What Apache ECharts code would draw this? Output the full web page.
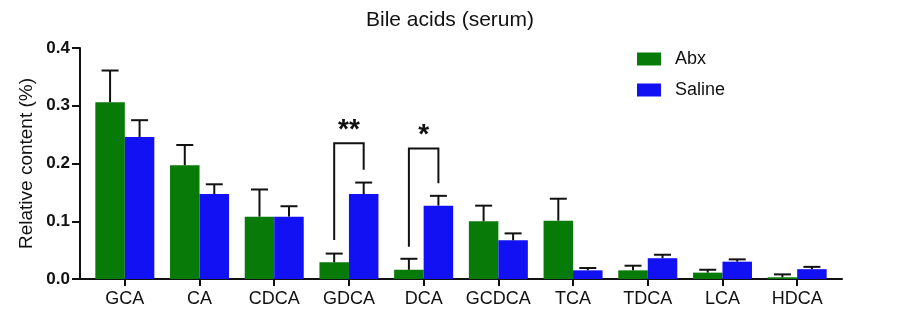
<!DOCTYPE html>
<html>
<head>
<meta charset="utf-8">
<script src="https://cdn.jsdelivr.net/npm/echarts@6/dist/echarts.min.js"></script>
<style>
  html, body { margin: 0; padding: 0; background: #fff; }
  #chart { width: 900px; height: 329px; }
</style>
</head>
<body>
<div id="chart"></div>
<script>
// Bile acid composition in serum, mean + SEM per group
const categories = ['GCA', 'CA', 'CDCA', 'GDCA', 'DCA', 'GCDCA', 'TCA', 'TDCA', 'LCA', 'HDCA'];
const abxMean    = [0.306, 0.197, 0.108, 0.029, 0.016, 0.100, 0.101, 0.015, 0.011, 0.003];
const abxSem     = [0.055, 0.035, 0.047, 0.015, 0.019, 0.027, 0.038, 0.008, 0.005, 0.005];
const salineMean = [0.246, 0.147, 0.108, 0.147, 0.127, 0.067, 0.015, 0.036, 0.030, 0.017];
const salineSem  = [0.029, 0.017, 0.018, 0.020, 0.017, 0.012, 0.004, 0.006, 0.004, 0.004];
const yTicks = [0, 0.1, 0.2, 0.3, 0.4];

// Significance brackets (category index, arm ends and top in axis units)
const sigCats     = [3, 4];
const sigLabels   = ['**', '*'];
const sigLeftEnd  = [0.0675, 0.056];
const sigRightEnd = [0.189, 0.166];
const sigTop      = [0.235, 0.226];

const GREEN = '#087a08';
const BLUE = '#1111f4';
const BAR_W = 29.5;
const FONT = '"Liberation Sans", Arial, Helvetica, sans-serif';

const errorData = [];
abxMean.forEach((v, i) => errorData.push([i, v, abxSem[i], -1]));
salineMean.forEach((v, i) => errorData.push([i, v, salineSem[i], 1]));

const sigData = sigCats.map((c, k) => [c, sigLeftEnd[k], sigRightEnd[k], sigTop[k], k]);

function renderError(params, api) {
  const x = api.value(0), m = api.value(1), e = api.value(2), side = api.value(3);
  const base = api.coord([x, m]);
  const top = api.coord([x, m + e]);
  const cx = base[0] + side * BAR_W / 2;
  const st = { stroke: '#111', lineWidth: 2 };
  return {
    type: 'group',
    children: [
      { type: 'line', shape: { x1: cx, y1: base[1], x2: cx, y2: top[1] }, style: st },
      { type: 'line', shape: { x1: cx - 8.5, y1: top[1], x2: cx + 8.5, y2: top[1] }, style: st }
    ]
  };
}

function renderSig(params, api) {
  const c = api.value(0);
  const yL = api.coord([c, api.value(1)])[1];
  const yR = api.coord([c, api.value(2)])[1];
  const pt = api.coord([c, api.value(3)]);
  const lx = pt[0] - BAR_W / 2, rx = pt[0] + BAR_W / 2;
  return {
    type: 'group',
    children: [
      {
        type: 'polyline',
        shape: { points: [[lx, yL], [lx, pt[1]], [rx, pt[1]], [rx, yR]] },
        style: { stroke: '#111', lineWidth: 2, fill: null }
      },
      {
        type: 'text',
        style: {
          x: pt[0], y: pt[1] - 13,
          text: sigLabels[api.value(4)],
          fill: '#111',
          font: 'bold 28px ' + FONT,
          align: 'center', verticalAlign: 'middle'
        }
      }
    ]
  };
}

const chart = echarts.init(document.getElementById('chart'));
chart.setOption({
  animation: false,
  backgroundColor: '#fff',
  textStyle: { fontFamily: FONT },
  title: {
    text: 'Bile acids (serum)',
    left: 'center',
    top: 5,
    textStyle: { fontSize: 21, fontWeight: 'normal', color: '#111', fontFamily: FONT }
  },
  legend: {
    data: ['Abx', 'Saline'],
    orient: 'vertical',
    left: 632,
    top: 45,
    itemWidth: 24,
    itemHeight: 13,
    itemGap: 13,
    icon: 'rect',
    textStyle: { fontSize: 18, color: '#111', fontFamily: FONT, padding: [0, 0, 0, 9] }
  },
  grid: { left: 80, right: 58, top: 48, bottom: 50 },
  xAxis: {
    type: 'value',
    min: -0.6,
    max: 9.6,
    splitLine: { show: false },
    axisLine: { show: true, onZero: false, lineStyle: { color: '#111', width: 2 } },
    axisTick: {
      show: true,
      customValues: categories.map((_, i) => i),
      length: 7,
      lineStyle: { color: '#111', width: 2 }
    },
    axisLabel: {
      customValues: categories.map((_, i) => i),
      formatter: v => categories[Math.round(v)],
      fontSize: 18,
      color: '#111',
      margin: 11,
      fontFamily: FONT
    }
  },
  yAxis: {
    type: 'value',
    min: yTicks[0],
    max: yTicks[yTicks.length - 1],
    interval: 0.1,
    name: 'Relative content (%)',
    nameLocation: 'middle',
    nameGap: 44,
    nameMoveOverlap: false,
    nameTextStyle: { fontSize: 19, color: '#111', fontFamily: FONT },
    splitLine: { show: false },
    axisLine: { show: true, onZero: false, lineStyle: { color: '#111', width: 2 } },
    axisTick: { show: true, length: 8, lineStyle: { color: '#111', width: 2 } },
    axisLabel: {
      formatter: v => v.toFixed(1),
      fontSize: 17,
      fontWeight: 'bold',
      color: '#111',
      margin: 10,
      fontFamily: FONT
    }
  },
  series: [
    {
      name: 'Abx', type: 'bar', barWidth: BAR_W, barGap: '0%',
      itemStyle: { color: GREEN },
      data: abxMean.map((v, i) => [i, v])
    },
    {
      name: 'Saline', type: 'bar', barWidth: BAR_W, barGap: '0%',
      itemStyle: { color: BLUE },
      data: salineMean.map((v, i) => [i, v])
    },
    {
      type: 'custom', name: 'sem', renderItem: renderError,
      encode: { x: 0, y: 1 }, data: errorData, z: 3
    },
    {
      type: 'custom', name: 'sig', renderItem: renderSig,
      encode: { x: 0, y: 3 }, data: sigData, z: 4
    }
  ]
});
</script>
</body>
</html>
